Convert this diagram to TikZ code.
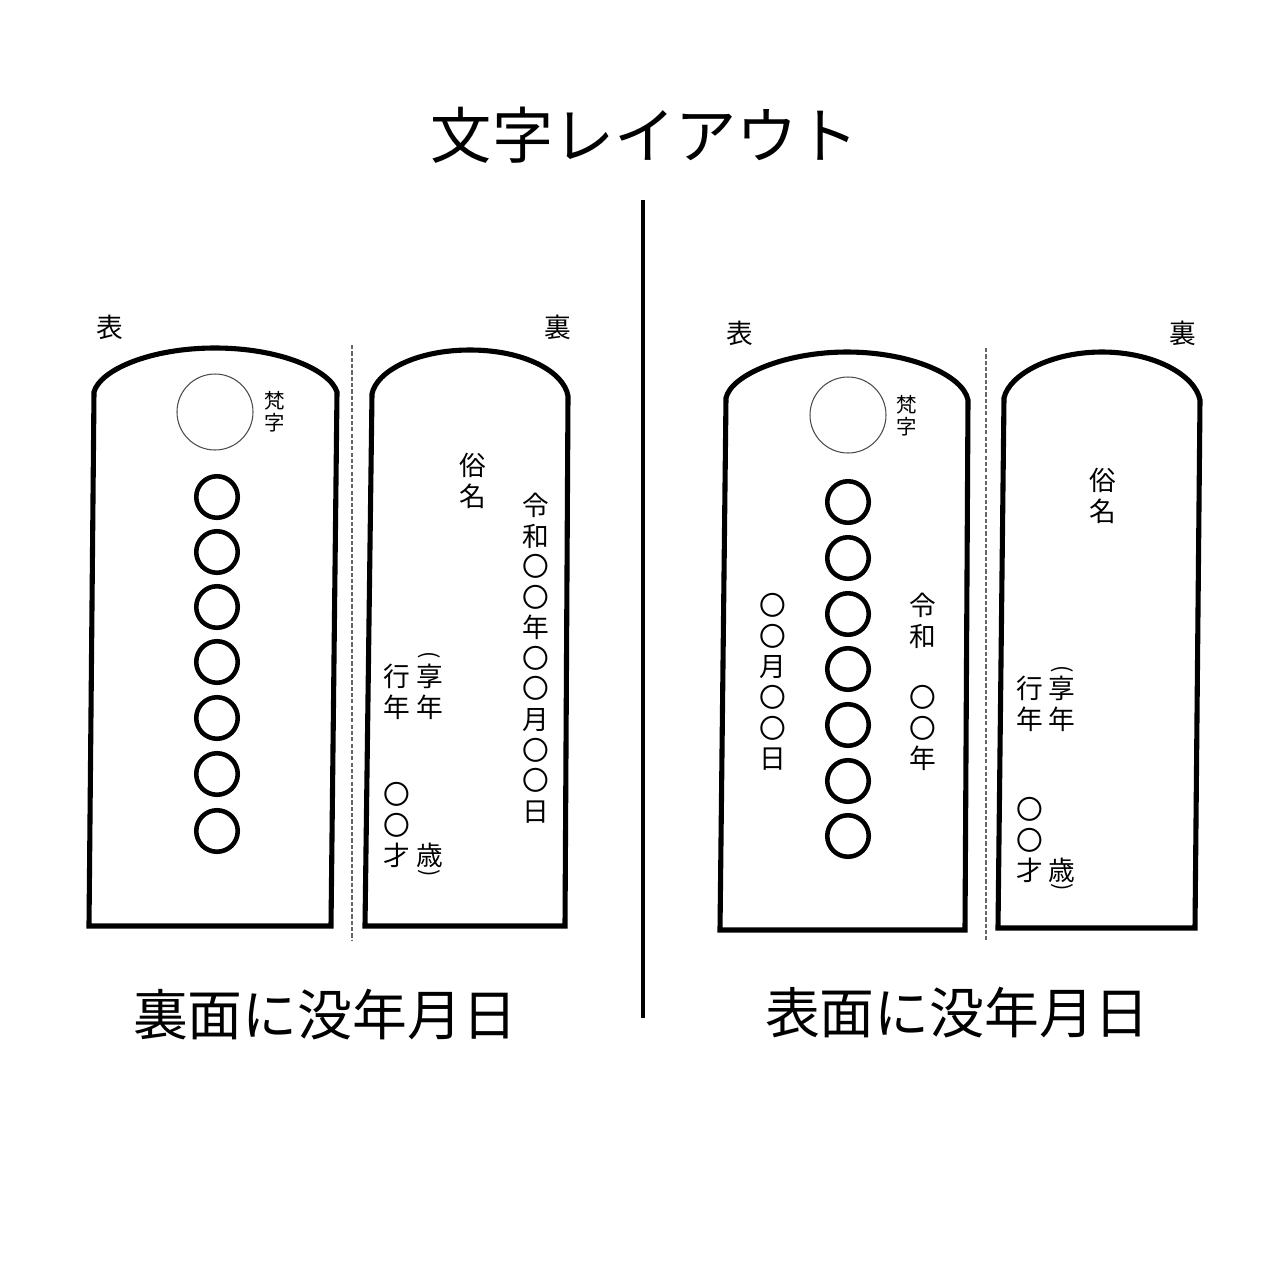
\documentclass[tikz,border=0pt]{standalone}
\usepackage{fontspec}
\setmainfont{Noto Sans CJK JP}

\begin{document}
\begin{tikzpicture}[
  x=0.1mm, y=-0.1mm,
  tablet/.style={line width=1.45pt, line join=miter},
  seal/.style={circle, draw, line width=1.3pt, minimum size=4.15mm, inner sep=0pt},
  bonji/.style={circle, draw=black!70, line width=0.3pt, minimum size=7.6mm, inner sep=0pt},
  vtext/.style={align=center, inner sep=0pt, font=\fontsize{7.6}{8.7}\selectfont},
  bonjitext/.style={align=center, inner sep=0pt, font=\fontsize{5.8}{6.3}\selectfont},
  facelabel/.style={inner sep=0pt, font=\fontsize{7.6}{9}\selectfont},
  bottomlabel/.style={inner sep=0pt, font=\fontsize{15.6}{18}\selectfont},
  paren/.style={inner sep=0pt, font=\fontsize{6.2}{7}\selectfont},
  fold/.style={draw=black!60, line width=0.35pt, dash pattern=on 1.2pt off 0.6pt}
]
  \useasboundingbox (0,0) rectangle (1280,1280);

  % -- Title and divider --------------------------------------------------
  \node[inner sep=0pt, font=\fontsize{17.4}{20}\selectfont] (title) at (645,135) {文字レイアウト};
  \coordinate (divtop) at (643,200);
  \coordinate (divbot) at (643,1018);
  \draw[line width=0.9pt] (divtop) -- (divbot);

  % -- Left: date on the back ---------------------------------------------
  \node[facelabel] (omoteL) at (110,327) {表};
  \node[facelabel] (uraL)   at (558,327) {裏};

  \draw[tablet] (89,926) -- (94,392) .. controls (100,370) and (150,348) .. (215,348)
    .. controls (280,348) and (330,370) .. (337,392) -- (331,926) -- cycle;
  \draw[fold] (352,345) -- (352,940);
  \draw[tablet] (365,926) -- (372,394) .. controls (376,372) and (415,350) .. (470,350)
    .. controls (525,350) and (564,372) .. (568,396) -- (565,926) -- cycle;

  \node[bonji] (bonjiL) at (215,412) {};
  \node[bonjitext] (bonjitxtL) at (275,412) {梵\\字};

  \node[seal] (sealL1) at (217,497) {};
  \node[seal] (sealL2) at (217,552) {};
  \node[seal] (sealL3) at (217,607) {};
  \node[seal] (sealL4) at (217,662) {};
  \node[seal] (sealL5) at (217,718) {};
  \node[seal] (sealL6) at (217,774) {};
  \node[seal] (sealL7) at (217,831) {};

  \node[vtext] (zokuL)  at (473,481) {俗\\名};
  \node[vtext] (dateL)  at (536,658) {令\\和\\〇\\〇\\年\\〇\\〇\\月\\〇\\〇\\日};
  \node[vtext] (gyoL)   at (397,692) {行\\年};
  \node[vtext] (kyoL)   at (430,692) {享\\年};
  \node[paren] (kyoopenL) at (429,655) {\rotatebox{-90}{(}};
  \node[vtext] (ageL)   at (397,825) {〇\\〇\\才};
  \node[vtext] (saiL)   at (430,855) {歳};
  \node[paren] (saicloseL) at (429,873) {\rotatebox{-90}{)}};

  \node[bottomlabel] (captionL) at (325,1015) {裏面に没年月日};

  % -- Right: date on the front -------------------------------------------
  \node[facelabel] (omoteR) at (740,333) {表};
  \node[facelabel] (uraR)   at (1183,333) {裏};

  \draw[tablet] (720,930) -- (726,398) .. controls (731,375) and (785,352) .. (847,352)
    .. controls (910,352) and (963,375) .. (968,400) -- (965,930) -- cycle;
  \draw[fold] (986,348) -- (986,940);
  \draw[tablet] (998,928) -- (1004,398) .. controls (1009,375) and (1050,352) .. (1102,352)
    .. controls (1154,352) and (1195,375) .. (1200,400) -- (1195,928) -- cycle;

  \node[bonji] (bonjiR) at (848,415) {};
  \node[bonjitext] (bonjitxtR) at (907,416) {梵\\字};

  \node[seal] (sealR1) at (848,502) {};
  \node[seal] (sealR2) at (848,558) {};
  \node[seal] (sealR3) at (848,614) {};
  \node[seal] (sealR4) at (848,669) {};
  \node[seal] (sealR5) at (848,725) {};
  \node[seal] (sealR6) at (848,781) {};
  \node[seal] (sealR7) at (848,836) {};

  \node[vtext] (monthR) at (773,682) {〇\\〇\\月\\〇\\〇\\日};
  \node[vtext] (eraR)   at (923,621) {令\\和};
  \node[vtext] (yearR)  at (923,728) {〇\\〇\\年};
  \node[vtext] (zokuR)  at (1103,496) {俗\\名};
  \node[vtext] (gyoR)   at (1030,704) {行\\年};
  \node[vtext] (kyoR)   at (1062,704) {享\\年};
  \node[paren] (kyoopenR) at (1062,669) {\rotatebox{-90}{(}};
  \node[vtext] (ageR)   at (1030,840) {〇\\〇\\才};
  \node[vtext] (saiR)   at (1062,870) {歳};
  \node[paren] (saicloseR) at (1062,887) {\rotatebox{-90}{)}};

  \node[bottomlabel] (captionR) at (957,1013) {表面に没年月日};
\end{tikzpicture}
\end{document}
